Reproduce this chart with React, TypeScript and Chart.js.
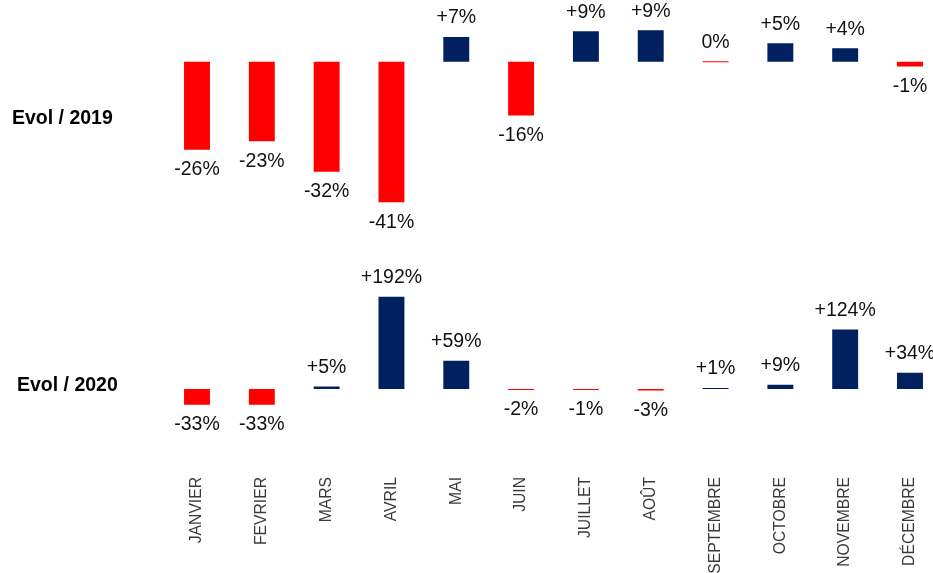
import React, { useEffect, useRef } from "react";
import { Chart, registerables } from "chart.js";

Chart.register(...registerables);

// ---- data ----
const MONTHS = [
  "JANVIER", "FEVRIER", "MARS", "AVRIL", "MAI", "JUIN",
  "JUILLET", "AOÛT", "SEPTEMBRE", "OCTOBRE", "NOVEMBRE", "DÉCEMBRE",
];
const EVOL_2019 = [-25.7, -23.2, -32.1, -41.0, 7.2, -15.7, 8.9, 9.2, 0, 5.4, 3.9, -1.4];
const EVOL_2020 = [-33, -33, 5, 192, 59, -2, -1, -3, 1, 9, 124, 34];
const ROW_TITLES = ["Evol / 2019", "Evol / 2020"];

// ---- styles ----
const NAVY = "#002060";
const RED = "#FF0000";
const FONT = "'Liberation Sans', Arial, sans-serif";
const CANVAS_W = 960;
const CANVAS_H = 573;

const colorsFor = (vals: number[]) => vals.map((v) => (v > 0 ? NAVY : RED));
const fmt = (v: number) => {
  const r = Math.round(v);
  if (r > 0) return "+" + r + "%";
  if (r < 0) return "-" + Math.abs(r) + "%";
  return "0%";
};

const labelsPlugin = {
  id: "valueLabels",
  afterDatasetsDraw(chart: any) {
    const ctx = chart.ctx;
    ctx.save();
    ctx.font = `19.5px ${FONT}`;
    ctx.fillStyle = "#111111";
    ctx.textAlign = "center";
    ctx.textBaseline = "middle";
    chart.data.datasets.forEach((ds: any, di: number) => {
      const meta = chart.getDatasetMeta(di);
      meta.data.forEach((el: any, i: number) => {
        const v = ds.data[i] as number;
        const top = Math.min(el.y, el.base);
        const bottom = Math.max(el.y, el.base);
        const r = Math.round(v);
        const y = r >= 0 ? top - 19 : bottom + 20;
        ctx.fillText(fmt(v), el.x, y);
      });
    });
    // row titles
    ctx.font = `bold 19.5px ${FONT}`;
    ctx.fillStyle = "#000000";
    ctx.textAlign = "left";
    ctx.fillText(ROW_TITLES[0], 12, 119);
    ctx.fillText(ROW_TITLES[1], 17, 386);
    ctx.restore();
  },
};

export default function App() {
  const ref = useRef<HTMLCanvasElement | null>(null);

  useEffect(() => {
    if (!ref.current) return;
    const chart = new Chart(ref.current, {
      type: "bar",
      data: {
        labels: MONTHS,
        datasets: [
          {
            label: ROW_TITLES[0],
            data: EVOL_2019,
            yAxisID: "y1",
            backgroundColor: colorsFor(EVOL_2019),
            borderWidth: 0,
            grouped: false,
            minBarLength: 1,
            barPercentage: 0.4,
            categoryPercentage: 1,
          } as any,
          {
            label: ROW_TITLES[1],
            data: EVOL_2020,
            yAxisID: "y2",
            backgroundColor: colorsFor(EVOL_2020),
            borderWidth: 0,
            grouped: false,
            minBarLength: 1,
            barPercentage: 0.4,
            categoryPercentage: 1,
          } as any,
        ],
      },
      options: {
        responsive: false,
        animation: false,
        events: [],
        layout: { padding: { left: 164.6, right: 17.6, top: 0, bottom: 0 } },
        plugins: {
          legend: { display: false },
          tooltip: { enabled: false },
          title: { display: false },
        },
        scales: {
          x: {
            grid: { display: false, drawTicks: false },
            border: { display: false },
            offset: true,
            ticks: {
              minRotation: 90,
              maxRotation: 90,
              autoSkip: false,
              padding: 24,
              color: "#3a3a3a",
              font: { family: FONT, size: 15.7 },
            },
            afterFit: (scale: any) => {
              scale.height = 120;
            },
          },
          y1: {
            display: false,
            min: -114.08,
            max: 17.99,
          },
          y2: {
            display: false,
            min: -133.3,
            max: 810.4,
          },
        },
      } as any,
      plugins: [labelsPlugin],
    });
    return () => chart.destroy();
  }, []);

  return (
    <div
      style={{
        position: "fixed",
        left: 0,
        top: 0,
        width: 933,
        height: 573,
        overflow: "hidden",
        background: "#ffffff",
      }}
    >
      <canvas ref={ref} width={CANVAS_W} height={CANVAS_H} style={{ display: "block" }} />
    </div>
  );
}
